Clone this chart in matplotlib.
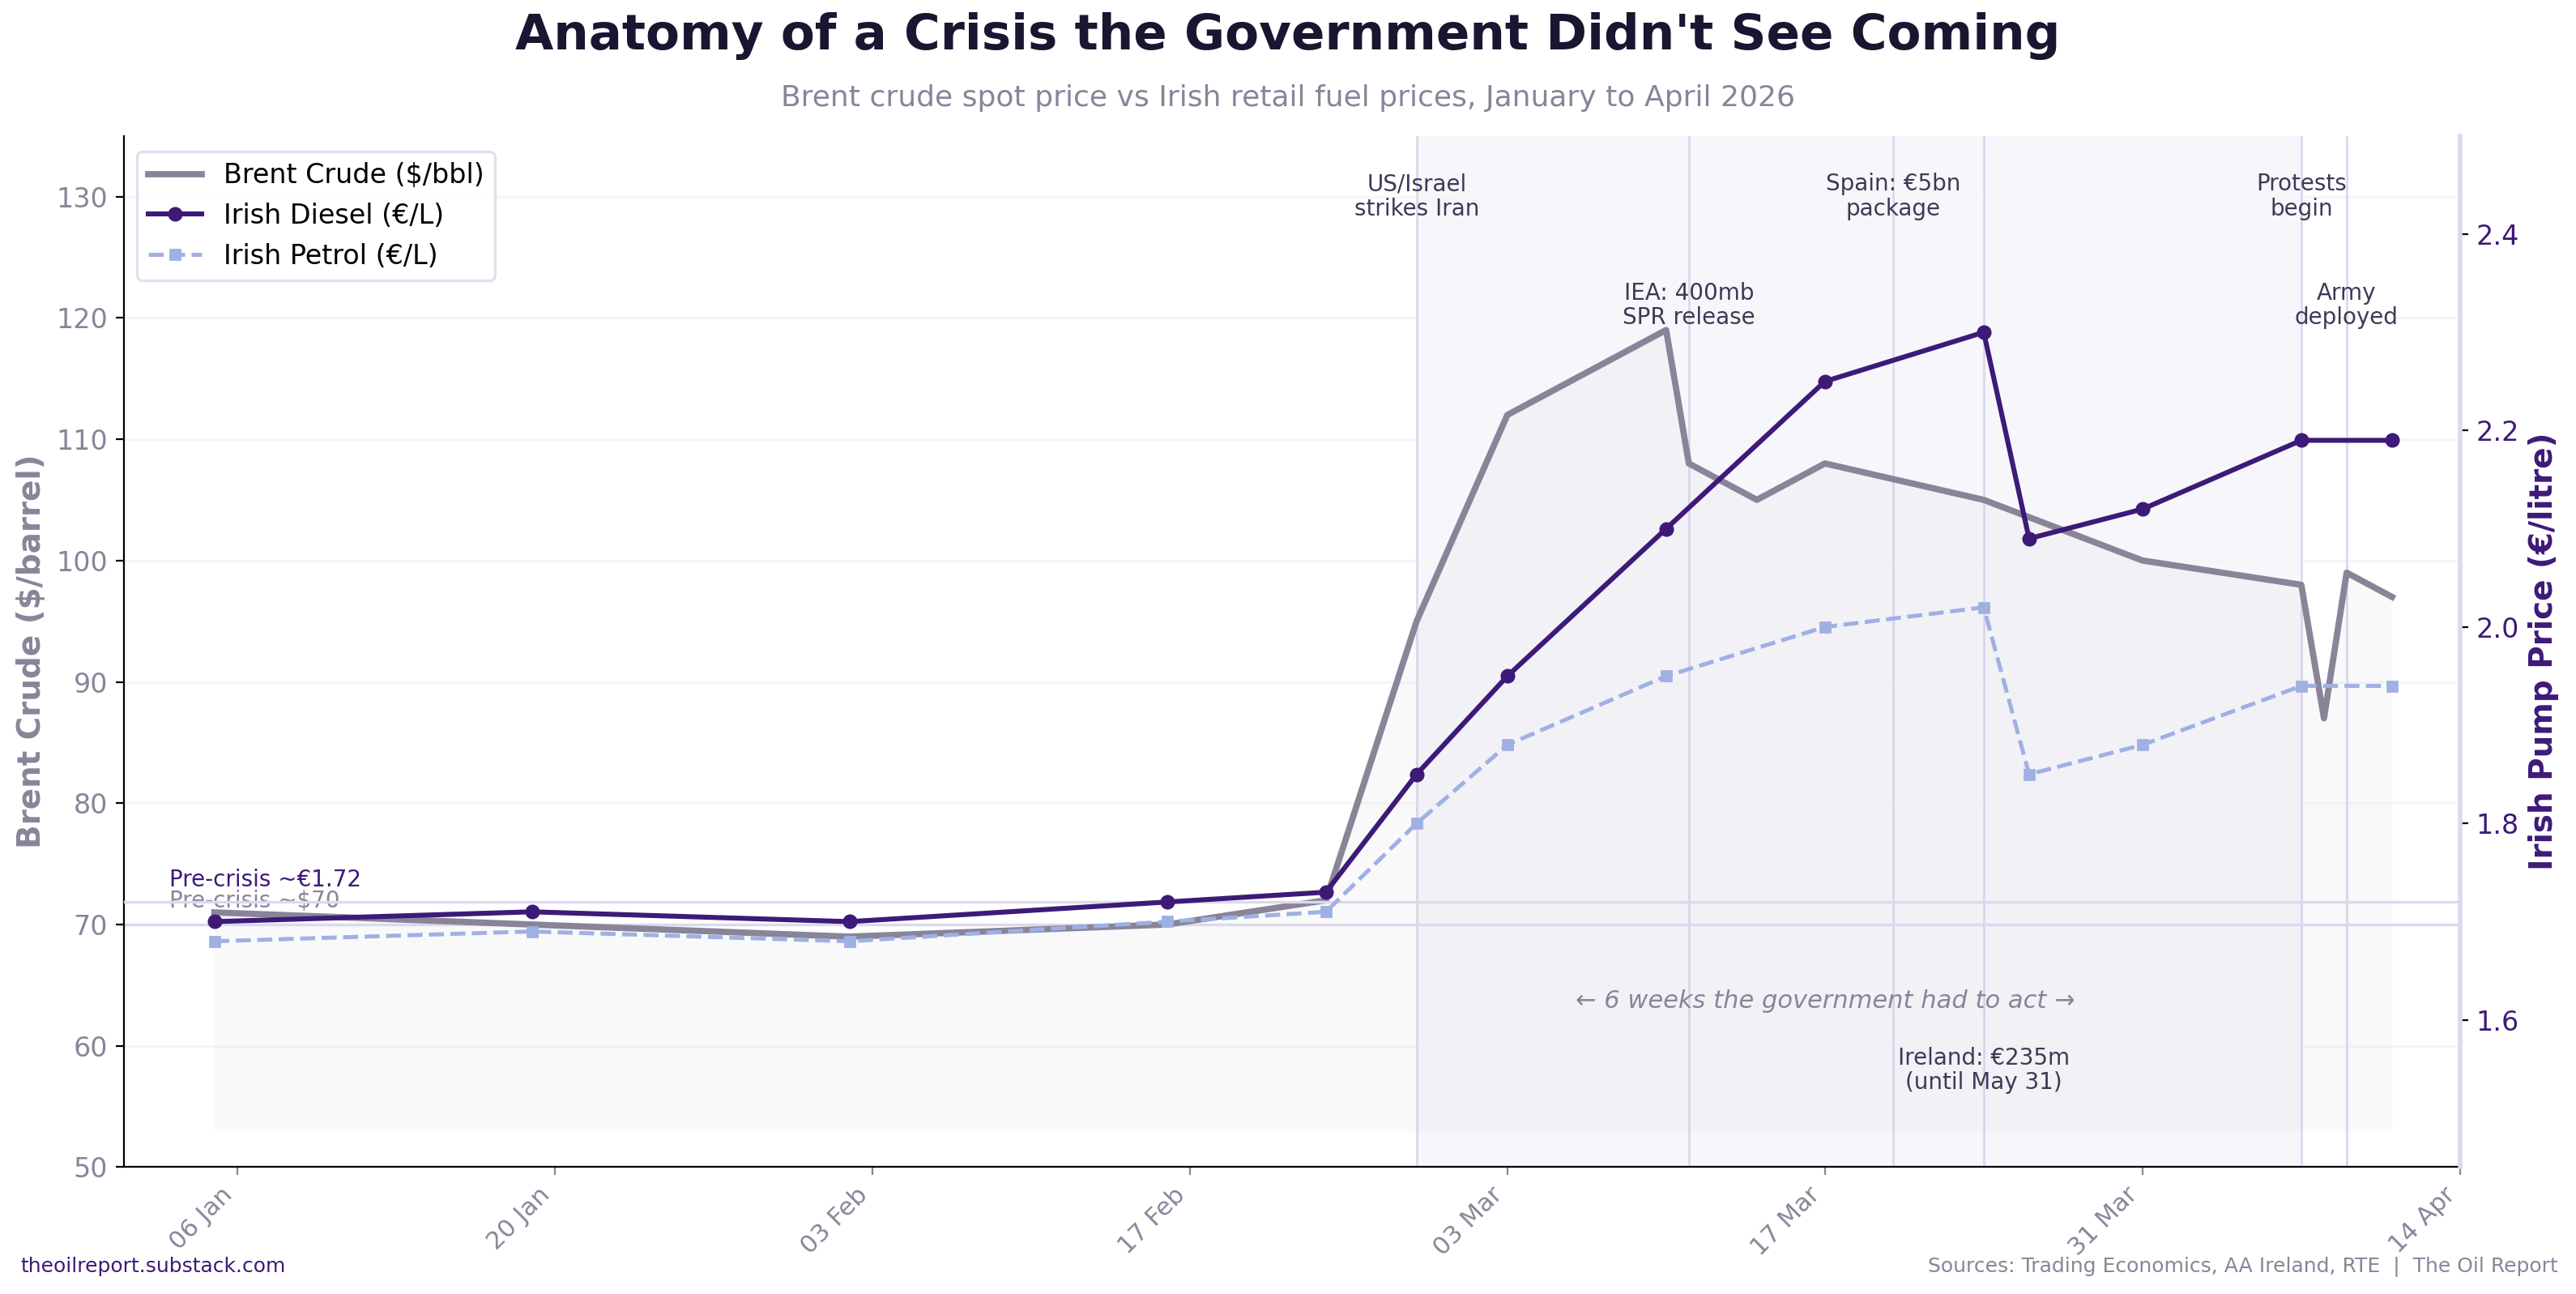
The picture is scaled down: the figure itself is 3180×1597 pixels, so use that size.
import matplotlib.pyplot as plt
import matplotlib.dates as mdates
import pandas as pd

# data
brent_dates = pd.to_datetime(['2026-01-05', '2026-01-19', '2026-02-02', '2026-02-16', '2026-02-23',
                              '2026-02-27', '2026-03-03', '2026-03-10', '2026-03-11', '2026-03-14',
                              '2026-03-17', '2026-03-24', '2026-03-31', '2026-04-07', '2026-04-08',
                              '2026-04-09', '2026-04-11'])
brent = [71, 70, 69, 70, 72, 95, 112, 119, 108, 105, 108, 105, 100, 98, 87, 99, 97]

pump_dates = pd.to_datetime(['2026-01-05', '2026-01-19', '2026-02-02', '2026-02-16', '2026-02-23',
                             '2026-02-27', '2026-03-03', '2026-03-10', '2026-03-17', '2026-03-24',
                             '2026-03-26', '2026-03-31', '2026-04-07', '2026-04-11'])
diesel = [1.70, 1.71, 1.70, 1.72, 1.73, 1.85, 1.95, 2.10, 2.25, 2.30, 2.09, 2.12, 2.19, 2.19]
petrol = [1.68, 1.69, 1.68, 1.70, 1.71, 1.80, 1.88, 1.95, 2.00, 2.02, 1.85, 1.88, 1.94, 1.94]

event_dates = pd.to_datetime(['2026-02-27', '2026-03-11', '2026-03-20', '2026-03-24', '2026-04-07', '2026-04-09'])
event_labels = ['US/Israel\nstrikes Iran', 'IEA: 400mb\nSPR release', 'Spain: €5bn\npackage',
                'Ireland: €235m\n(until May 31)', 'Protests\nbegin', 'Army\ndeployed']
event_y = [130, 121, 130, 58, 130, 121]

tick_dates = pd.date_range('2026-01-06', '2026-04-14', freq='14D')

BRENT_C = '#8a8499'
DIESEL_C = '#3d1a78'
PETROL_C = '#9fb0e3'
LIGHT = '#ddd8ee'
TEXT_C = '#3d3a55'

fig = plt.figure(figsize=(15.9, 7.985), dpi=200)
ax = fig.add_axes([0.048, 0.098, 0.907, 0.797])
ax2 = ax.twinx()

# crisis window
ax.axvspan(pd.Timestamp('2026-02-27'), pd.Timestamp('2026-04-07'), color='#7b68c8', alpha=0.06, lw=0, zorder=0)
for d in event_dates:
    ax.axvline(d, color=LIGHT, lw=1, zorder=1)

ax.fill_between(brent_dates, brent, 53, color=BRENT_C, alpha=0.045, lw=0, zorder=1)
ax.plot(brent_dates, brent, color=BRENT_C, lw=2.8, zorder=3, label='Brent Crude ($/bbl)')
ax.axhline(70, color=LIGHT, lw=1.2, zorder=1)

ax2.plot(pump_dates, diesel, color=DIESEL_C, lw=2.2, marker='o', ms=5.5, zorder=4, label='Irish Diesel (€/L)')
ax2.plot(pump_dates, petrol, color=PETROL_C, lw=1.8, ls='--', marker='s', ms=4, zorder=4,
         label='Irish Petrol (€/L)')
ax2.axhline(1.72, color=LIGHT, lw=1.2, zorder=1)

ax.set_xlim(pd.Timestamp('2026-01-01'), pd.Timestamp('2026-04-14'))
ax.set_ylim(50, 135)
ax2.set_ylim(1.45, 2.5)
ax.set_yticks(range(50, 131, 10))
ax2.set_yticks([1.6, 1.8, 2.0, 2.2, 2.4])

ax.set_xticks(tick_dates)
ax.xaxis.set_major_formatter(mdates.DateFormatter('%d %b'))
plt.setp(ax.get_xticklabels(), rotation=45, ha='right')
ax.tick_params(axis='x', colors=BRENT_C, labelsize=11)
ax.tick_params(axis='y', labelcolor=BRENT_C, labelsize=12)
ax2.tick_params(axis='y', labelcolor=DIESEL_C, labelsize=12)

ax.grid(axis='y', color='#f5f5f5', lw=1)
ax.set_axisbelow(True)
ax.spines['top'].set_visible(False)
ax2.spines['top'].set_visible(False)
ax.spines['right'].set_visible(False)
ax2.spines['left'].set_visible(False)
ax2.spines['bottom'].set_visible(False)
ax2.spines['right'].set_color(LIGHT)
ax2.spines['right'].set_linewidth(2)

ax.set_ylabel('Brent Crude ($/barrel)', color=BRENT_C, fontsize=14, fontweight='bold')
ax2.set_ylabel('Irish Pump Price (€/litre)', color=DIESEL_C, fontsize=14, fontweight='bold')

for d, lab, y in zip(event_dates, event_labels, event_y):
    ax.text(d, y, lab, ha='center', va='center', fontsize=10, color=TEXT_C, linespacing=1.1, zorder=5)

ax.text(pd.Timestamp('2026-03-17'), 63.7, '← 6 weeks the government had to act →', ha='center', va='center',
        fontsize=11, style='italic', color=BRENT_C, zorder=5)

ax.text(pd.Timestamp('2026-01-03'), 71.0, 'Pre-crisis ~$70', fontsize=10, color=BRENT_C, va='bottom', zorder=5)
ax2.text(pd.Timestamp('2026-01-03'), 1.731, 'Pre-crisis ~€1.72', fontsize=10, color=DIESEL_C, va='bottom', zorder=5)

h1, l1 = ax.get_legend_handles_labels()
h2, l2 = ax2.get_legend_handles_labels()
leg = ax2.legend(h1 + h2, l1 + l2, loc='upper left', fontsize=12, frameon=True, edgecolor=LIGHT,
                 bbox_to_anchor=(0.0, 0.998))
leg.get_frame().set_linewidth(1.2)

fig.text(0.5, 0.972, "Anatomy of a Crisis the Government Didn't See Coming", ha='center', va='center',
         fontsize=22, fontweight='bold', color='#1a1530')
fig.text(0.5, 0.924, 'Brent crude spot price vs Irish retail fuel prices, January to April 2026', ha='center',
         va='center', fontsize=13, color=BRENT_C)
fig.text(0.008, 0.021, 'theoilreport.substack.com', ha='left', va='center', fontsize=9, color=DIESEL_C)
fig.text(0.993, 0.021, 'Sources: Trading Economics, AA Ireland, RTE  |  The Oil Report', ha='right', va='center',
         fontsize=9, color=BRENT_C)

fig.savefig('out.png', dpi=200)
